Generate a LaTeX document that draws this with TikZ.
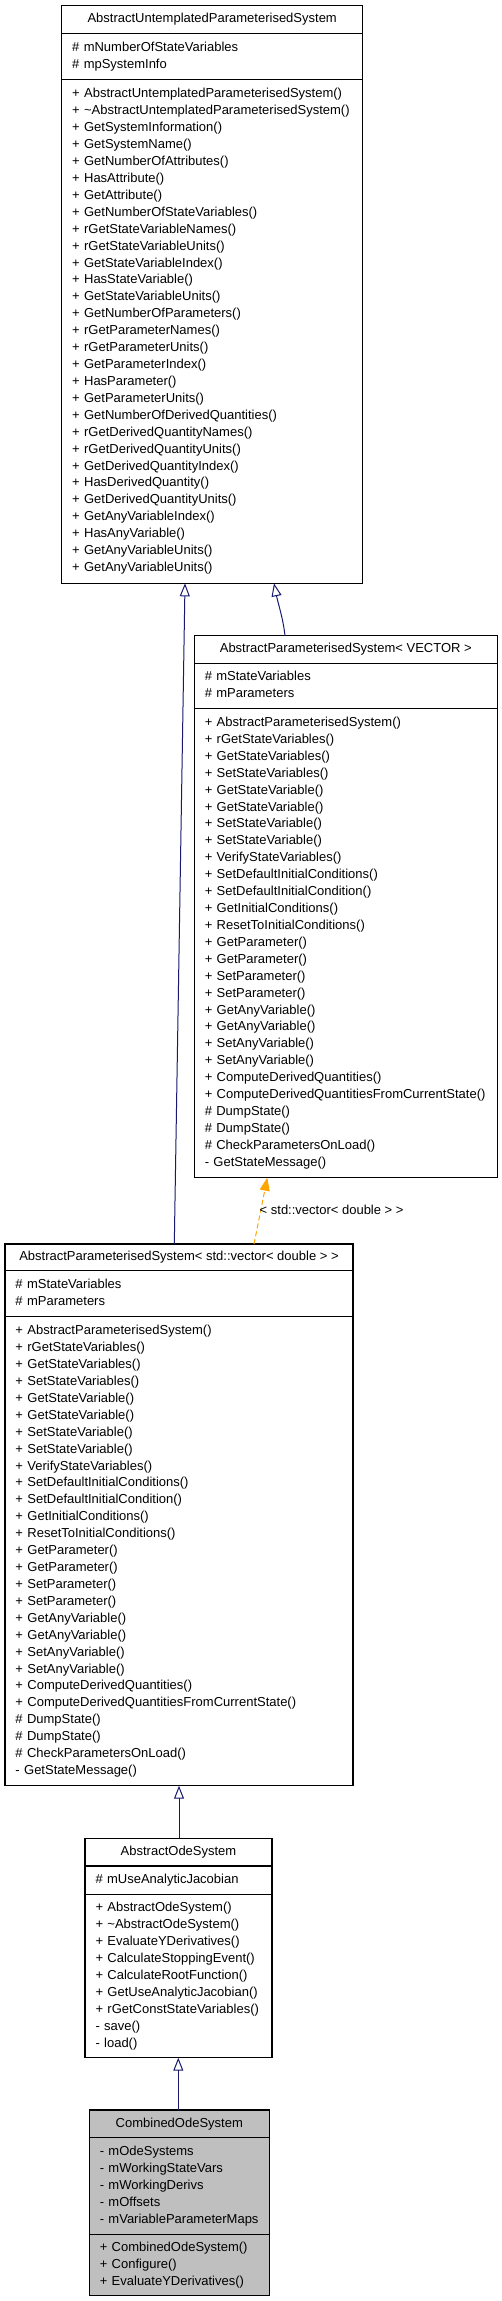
\documentclass[tikz,border=0pt]{standalone}
\usepackage{fontspec}
\setmainfont{Liberation Sans}
\usetikzlibrary{arrows.meta,calc}
\definecolor{edgeblue}{RGB}{25,25,112}
\definecolor{edgeorange}{RGB}{255,165,0}
\definecolor{classgray}{RGB}{191,191,191}
\newcommand{\umlfont}{\fontsize{13}{16.92}\selectfont\hyphenpenalty=10000 \exhyphenpenalty=10000 \hbadness=10000 \hfuzz=100pt\relax}
\tikzset{
  compbox/.style={draw=black, line width=1.1pt, fill=white, inner xsep=10.5pt, inner ysep=0pt,
    outer sep=0pt, anchor=north west, align=left, font=\umlfont,
    execute at begin node=\strut, execute at end node=\strut},
  titlebox/.style={compbox, align=center},
  inh/.style={draw=edgeblue, line width=1pt, -{Triangle[open, length=13pt, width=10pt]}},
  tmpl/.style={draw=edgeorange, line width=1pt, dash pattern=on 5pt off 3pt,
    -{Triangle[length=13pt, width=10pt, fill=edgeorange]}},
  elabel/.style={anchor=west, inner sep=0pt, font=\umlfont}
}
\begin{document}
\begin{tikzpicture}[x=1pt, y=-1pt]
\useasboundingbox (0,0) rectangle (501,2301);

% ---- AbstractUntemplatedParameterisedSystem
\node[titlebox, minimum width=301pt, minimum height=27.6pt] (aups-t) at (61.7,5.7)
  {AbstractUntemplatedParameterisedSystem};
\node[compbox, minimum width=301pt, minimum height=46pt, text width=280pt] (aups-a) at (61.7,33.3)
  {\#~mNumberOfStateVariables\\\#~mpSystemInfo};
\node[compbox, minimum width=301pt, minimum height=504pt, text width=280pt] (aups-m) at (61.7,79.3)
  {+~AbstractUntemplatedParameterisedSystem()\\
   +~\textasciitilde AbstractUntemplatedParameterisedSystem()\\
   +~GetSystemInformation()\\
   +~GetSystemName()\\
   +~GetNumberOfAttributes()\\
   +~HasAttribute()\\
   +~GetAttribute()\\
   +~GetNumberOfStateVariables()\\
   +~rGetStateVariableNames()\\
   +~rGetStateVariableUnits()\\
   +~GetStateVariableIndex()\\
   +~HasStateVariable()\\
   +~GetStateVariableUnits()\\
   +~GetNumberOfParameters()\\
   +~rGetParameterNames()\\
   +~rGetParameterUnits()\\
   +~GetParameterIndex()\\
   +~HasParameter()\\
   +~GetParameterUnits()\\
   +~GetNumberOfDerivedQuantities()\\
   +~rGetDerivedQuantityNames()\\
   +~rGetDerivedQuantityUnits()\\
   +~GetDerivedQuantityIndex()\\
   +~HasDerivedQuantity()\\
   +~GetDerivedQuantityUnits()\\
   +~GetAnyVariableIndex()\\
   +~HasAnyVariable()\\
   +~GetAnyVariableUnits()\\
   +~GetAnyVariableUnits()};

% ---- AbstractParameterisedSystem< VECTOR >
\node[titlebox, minimum width=303pt, minimum height=27.6pt] (apsv-t) at (194.3,635.7)
  {AbstractParameterisedSystem< VECTOR >};
\node[compbox, minimum width=303pt, minimum height=45pt, text width=282pt] (apsv-a) at (194.3,663.3)
  {\#~mStateVariables\\\#~mParameters};
\node[compbox, minimum width=303pt, minimum height=469.4pt, text width=282pt] (apsv-m) at (194.3,708.3)
  {+~AbstractParameterisedSystem()\\
   +~rGetStateVariables()\\
   +~GetStateVariables()\\
   +~SetStateVariables()\\
   +~GetStateVariable()\\
   +~GetStateVariable()\\
   +~SetStateVariable()\\
   +~SetStateVariable()\\
   +~VerifyStateVariables()\\
   +~SetDefaultInitialConditions()\\
   +~SetDefaultInitialCondition()\\
   +~GetInitialConditions()\\
   +~ResetToInitialConditions()\\
   +~GetParameter()\\
   +~GetParameter()\\
   +~SetParameter()\\
   +~SetParameter()\\
   +~GetAnyVariable()\\
   +~GetAnyVariable()\\
   +~SetAnyVariable()\\
   +~SetAnyVariable()\\
   +~ComputeDerivedQuantities()\\
   +~ComputeDerivedQuantitiesFromCurrentState()\\
   \#~DumpState()\\
   \#~DumpState()\\
   \#~CheckParametersOnLoad()\\
   -~GetStateMessage()};

% ---- AbstractParameterisedSystem< std::vector< double > >
\node[titlebox, minimum width=348pt, minimum height=26.7pt] (apsd-t) at (5,1244)
  {AbstractParameterisedSystem< std::vector< double > >};
\node[compbox, minimum width=348pt, minimum height=46pt, text width=327pt] (apsd-a) at (5,1270.7)
  {\#~mStateVariables\\\#~mParameters};
\node[compbox, minimum width=348pt, minimum height=469pt, text width=327pt] (apsd-m) at (5,1316.7)
  {+~AbstractParameterisedSystem()\\
   +~rGetStateVariables()\\
   +~GetStateVariables()\\
   +~SetStateVariables()\\
   +~GetStateVariable()\\
   +~GetStateVariable()\\
   +~SetStateVariable()\\
   +~SetStateVariable()\\
   +~VerifyStateVariables()\\
   +~SetDefaultInitialConditions()\\
   +~SetDefaultInitialCondition()\\
   +~GetInitialConditions()\\
   +~ResetToInitialConditions()\\
   +~GetParameter()\\
   +~GetParameter()\\
   +~SetParameter()\\
   +~SetParameter()\\
   +~GetAnyVariable()\\
   +~GetAnyVariable()\\
   +~SetAnyVariable()\\
   +~SetAnyVariable()\\
   +~ComputeDerivedQuantities()\\
   +~ComputeDerivedQuantitiesFromCurrentState()\\
   \#~DumpState()\\
   \#~DumpState()\\
   \#~CheckParametersOnLoad()\\
   -~GetStateMessage()};

% ---- AbstractOdeSystem
\node[titlebox, minimum width=187pt, minimum height=27.7pt] (aos-t) at (85,1838.3)
  {AbstractOdeSystem};
\node[compbox, minimum width=187pt, minimum height=28.3pt, text width=166pt] (aos-a) at (85,1866)
  {\#~mUseAnalyticJacobian};
\node[compbox, minimum width=187pt, minimum height=163.4pt, text width=166pt] (aos-m) at (85,1894.3)
  {+~AbstractOdeSystem()\\
   +~\textasciitilde AbstractOdeSystem()\\
   +~EvaluateYDerivatives()\\
   +~CalculateStoppingEvent()\\
   +~CalculateRootFunction()\\
   +~GetUseAnalyticJacobian()\\
   +~rGetConstStateVariables()\\
   -~save()\\
   -~load()};

% ---- CombinedOdeSystem
\node[titlebox, fill=classgray, minimum width=180pt, minimum height=27.7pt] (cos-t) at (89.3,2110)
  {CombinedOdeSystem};
\node[compbox, fill=classgray, minimum width=180pt, minimum height=96.6pt, text width=159pt] (cos-a) at (89.3,2137.7)
  {-~mOdeSystems\\
   -~mWorkingStateVars\\
   -~mWorkingDerivs\\
   -~mOffsets\\
   -~mVariableParameterMaps};
\node[compbox, fill=classgray, minimum width=180pt, minimum height=61.4pt, text width=159pt] (cos-m) at (89.3,2234.3)
  {+~CombinedOdeSystem()\\
   +~Configure()\\
   +~EvaluateYDerivatives()};

% ---- connectors
\draw[inh] ([xshift=169.3pt]apsd-t.north west) -- ([xshift=123.3pt]aups-m.south west);
\draw[inh] ([xshift=90.7pt]apsv-t.north west) .. controls +(-2,-18) and +(4,20) .. ([xshift=212.3pt]aups-m.south west);
\draw[tmpl] ([xshift=249pt]apsd-t.north west) -- ([xshift=73pt]apsv-m.south west);
\node[elabel] (lbl) at (259.5,1210) {< std::vector< double > >};
\draw[inh] ([xshift=94pt]aos-t.north west) coordinate (aostop) -- (aostop |- apsd-m.south);
\draw[inh] ([xshift=89pt]cos-t.north west) coordinate (costop) -- (costop |- aos-m.south);
\end{tikzpicture}
\end{document}
